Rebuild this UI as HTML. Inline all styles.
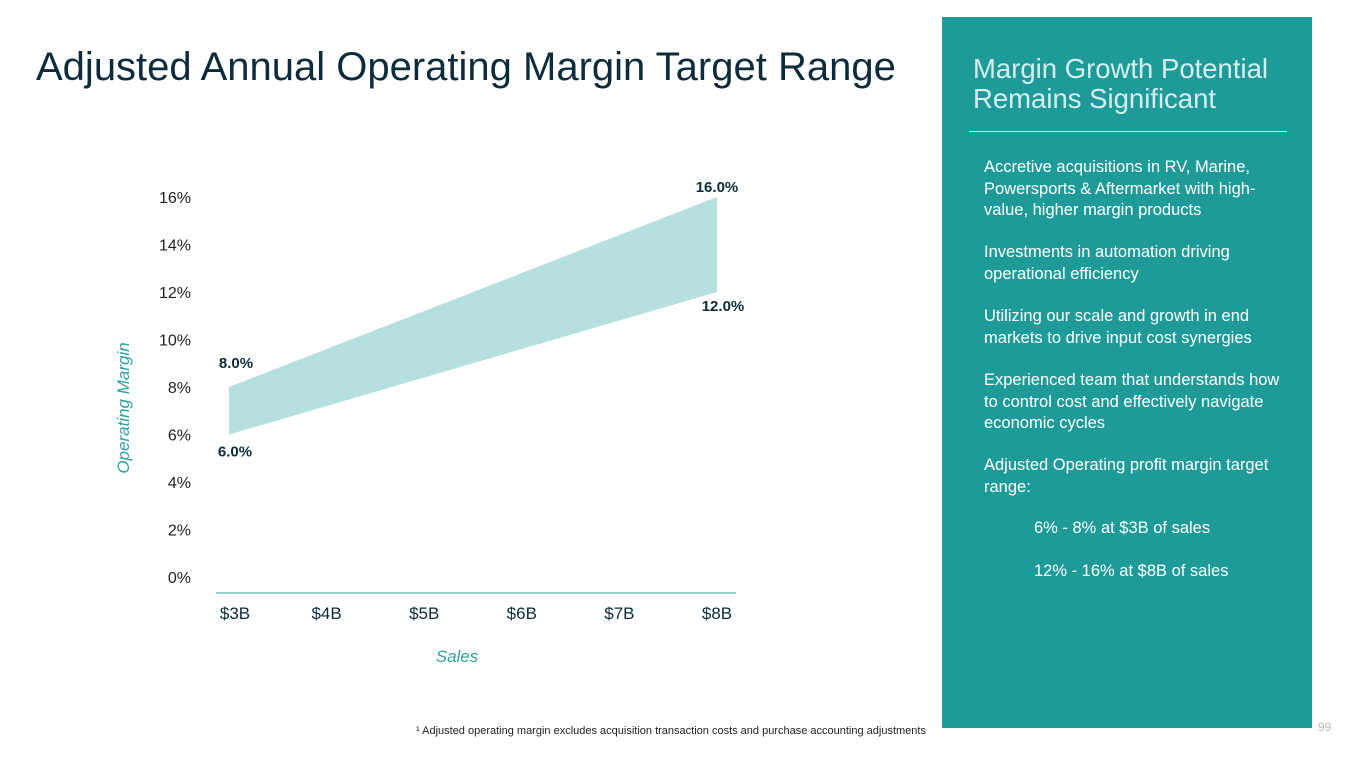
<!DOCTYPE html>
<html><head><meta charset="utf-8"><style>
body{margin:0;width:1365px;height:768px;background:#fff;position:relative;overflow:hidden;font-family:"Liberation Sans",sans-serif}
.abs{position:absolute;margin:0}
#panel{left:942px;top:17px;width:370px;height:711px;background:#1e9b99}
.pt{position:absolute;left:42px;color:#fff;font-size:16.5px;line-height:21.5px;width:310px}
</style></head><body>
<h1 class="abs" style="left:36px;top:45px;font-size:40px;font-weight:normal;color:#0c2b3c;white-space:nowrap">Adjusted Annual Operating Margin Target Range</h1>
<div id="panel" class="abs">
<div class="abs" style="left:31px;top:37px;color:#d6efee;font-size:27.5px;line-height:30px">Margin Growth Potential<br>Remains Significant</div>
<div class="abs" style="left:27px;top:114px;width:318px;height:1px;background:#bfe6e4"></div>
<div class="pt" style="top:140px">Accretive acquisitions in RV, Marine, Powersports &amp; Aftermarket with high-value, higher margin products</div>
<div class="pt" style="top:225px">Investments in automation driving operational efficiency</div>
<div class="pt" style="top:289px">Utilizing our scale and growth in end markets to drive input cost synergies</div>
<div class="pt" style="top:353px">Experienced team that understands how to control cost and effectively navigate economic cycles</div>
<div class="pt" style="top:438px">Adjusted Operating profit margin target range:</div>
<div class="pt" style="left:92px;top:501px">6% - 8% at $3B of sales</div>
<div class="pt" style="left:92px;top:544px">12% - 16% at $8B of sales</div>
</div>
<div class="abs" style="left:1318px;top:720px;color:#bbb;font-size:12px">99</div>
<div class="abs" style="left:416px;top:725px;color:#222;font-size:11px;white-space:nowrap">¹ Adjusted operating margin excludes acquisition transaction costs and purchase accounting adjustments</div>
<svg id="chart" class="abs" style="left:0;top:0" width="940" height="700"></svg>
<script>
const salesTicks=[3,4,5,6,7,8];
const salesLabels=["$3B","$4B","$5B","$6B","$7B","$8B"];
const marginTicks=[0,2,4,6,8,10,12,14,16];
const bandSales=[3,8];
const bandLow=[6,12];
const bandHigh=[8,16];
const x=v=>229+(v-3)*(717-229)/5;
const y=v=>577-v*23.75;
const svg=document.getElementById('chart');
const NS='http://www.w3.org/2000/svg';
function mk(t,a,txt){const e=document.createElementNS(NS,t);for(const k in a)e.setAttribute(k,a[k]);if(txt!=null)e.textContent=txt;svg.appendChild(e);return e;}
marginTicks.forEach(v=>{const e=mk('text',{x:191,y:y(v)+6,'text-anchor':'end','font-size':16,fill:'#222','font-family':'Liberation Sans, sans-serif'},v+'%');

});
let pts=bandSales.map((s,i)=>x(s)+','+y(bandHigh[i]));
pts=pts.concat(bandSales.map((s,i)=>x(s)+','+y(bandLow[i])).reverse());
const band=mk('polygon',{points:pts.join(' '),fill:'#b6e0e0'});


const ax=mk('line',{x1:216,x2:736,y1:593,y2:593,stroke:'#5bb8b5','stroke-width':1.3});


salesTicks.forEach((s,i)=>{const e=mk('text',{x:x(s)+(i==0?6:0),y:619,'text-anchor':'middle','font-size':17,fill:'#0c2b3c','font-family':'Liberation Sans, sans-serif'},salesLabels[i]);

});
bandSales.forEach((s,i)=>{
const hi=mk('text',{x:x(s)+(i==0?7:0),y:y(bandHigh[i])-(i==0?19:5),'text-anchor':'middle','font-size':15,'font-weight':'bold',fill:'#0c2b3c','font-family':'Liberation Sans, sans-serif'},bandHigh[i].toFixed(1)+'%');


const lo=mk('text',{x:x(s)+(i==0?6:6),y:y(bandLow[i])+(i==0?22:19),'text-anchor':'middle','font-size':15,'font-weight':'bold',fill:'#0c2b3c','font-family':'Liberation Sans, sans-serif'},bandLow[i].toFixed(1)+'%');

});
const yt=mk('text',{x:0,y:0,transform:'translate(129,408) rotate(-90)','text-anchor':'middle','font-size':17,'font-style':'italic',fill:'#2aa39f','font-family':'Liberation Sans, sans-serif'},'Operating Margin');


const xt=mk('text',{x:457,y:662,'text-anchor':'middle','font-size':17,'font-style':'italic',fill:'#2aa39f','font-family':'Liberation Sans, sans-serif'},'Sales');


</script>
</body></html>
